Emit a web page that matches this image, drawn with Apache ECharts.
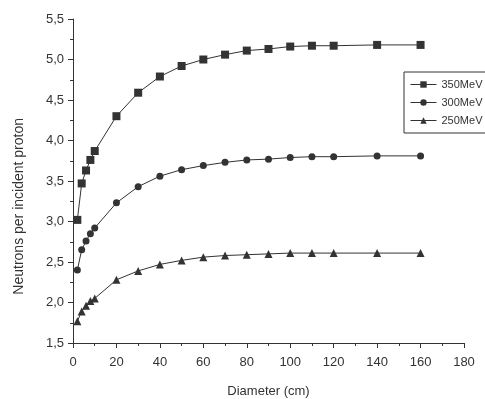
<!DOCTYPE html>
<html>
<head>
<meta charset="utf-8">
<script src="https://cdn.jsdelivr.net/npm/echarts@6/dist/echarts.min.js"></script>
<style>html,body{margin:0;padding:0;background:#fff;}#c{width:485px;height:399px;}</style>
</head>
<body>
<div id="c"></div>
<script>
const diameters = [2, 4, 6, 8, 10, 20, 30, 40, 50, 60, 70, 80, 90, 100, 110, 120, 140, 160];
const mev350 = [3.02, 3.47, 3.63, 3.76, 3.87, 4.30, 4.59, 4.79, 4.92, 5.00, 5.06, 5.11, 5.13, 5.16, 5.17, 5.17, 5.18, 5.18];
const mev300 = [2.40, 2.65, 2.76, 2.85, 2.92, 3.23, 3.43, 3.56, 3.64, 3.69, 3.73, 3.76, 3.77, 3.79, 3.80, 3.80, 3.81, 3.81];
const mev250 = [1.77, 1.89, 1.96, 2.02, 2.05, 2.28, 2.39, 2.47, 2.52, 2.56, 2.58, 2.59, 2.60, 2.61, 2.61, 2.61, 2.61, 2.61];
const seriesNames = ['350MeV', '300MeV', '250MeV'];
const xTitle = 'Diameter (cm)';
const yTitle = 'Neutrons per incident proton';

const ink = '#333';
const font = 'Liberation Sans, Arial, sans-serif';
function pairs(arr) { return diameters.map((d, i) => [d, arr[i]]); }
function mk(name, data, symbol, size) {
  return {
    name, type: 'line', data: pairs(data), symbol, symbolSize: size,
    lineStyle: { color: ink, width: 1 },
    itemStyle: { color: ink },
    emphasis: { disabled: true }
  };
}
const chart = echarts.init(document.getElementById('c'));
chart.setOption({
  animation: false,
  backgroundColor: '#fff',
  grid: { left: 73, right: 21, top: 19, bottom: 56, containLabel: false, outerBoundsMode: 'none' },
  legend: {
    left: 404, top: 72, orient: 'vertical',
    data: seriesNames,
    borderColor: ink, borderWidth: 1, padding: [7, 12, 7, 6],
    itemWidth: 26, itemHeight: 8, itemGap: 7,
    lineStyle: { width: 1 },
    textStyle: { color: ink, fontSize: 11, fontFamily: font }
  },
  xAxis: {
    type: 'value', min: 0, max: 180, interval: 20,
    name: xTitle, nameLocation: 'middle', nameGap: 42,
    nameTextStyle: { color: ink, fontSize: 13, fontFamily: font },
    axisLine: { lineStyle: { color: ink, width: 1 } },
    axisTick: { length: 5, lineStyle: { color: ink } },
    minorTick: { show: true, splitNumber: 2, length: 3, lineStyle: { color: ink } },
    splitLine: { show: false },
    axisLabel: { color: ink, fontSize: 13, fontFamily: font, margin: 13 }
  },
  yAxis: {
    type: 'value', min: 1.5, max: 5.5, interval: 0.5,
    axisLine: { show: true, lineStyle: { color: ink, width: 1 } },
    axisTick: { show: true, length: 5, lineStyle: { color: ink } },
    minorTick: { show: true, splitNumber: 2, length: 3, lineStyle: { color: ink } },
    splitLine: { show: false },
    axisLabel: { color: ink, fontSize: 13, fontFamily: font, margin: 9,
      formatter: v => v.toFixed(1).replace('.', ',') }
  },
  graphic: [{
    type: 'text', left: 12, top: 118, rotation: Math.PI / 2,
    style: { text: yTitle, fill: ink, fontSize: 14, fontFamily: font }
  }],
  series: [
    mk(seriesNames[0], mev350, 'rect', 8),
    mk(seriesNames[1], mev300, 'circle', 7),
    mk(seriesNames[2], mev250, 'triangle', 8)
  ]
});
</script>
</body>
</html>
